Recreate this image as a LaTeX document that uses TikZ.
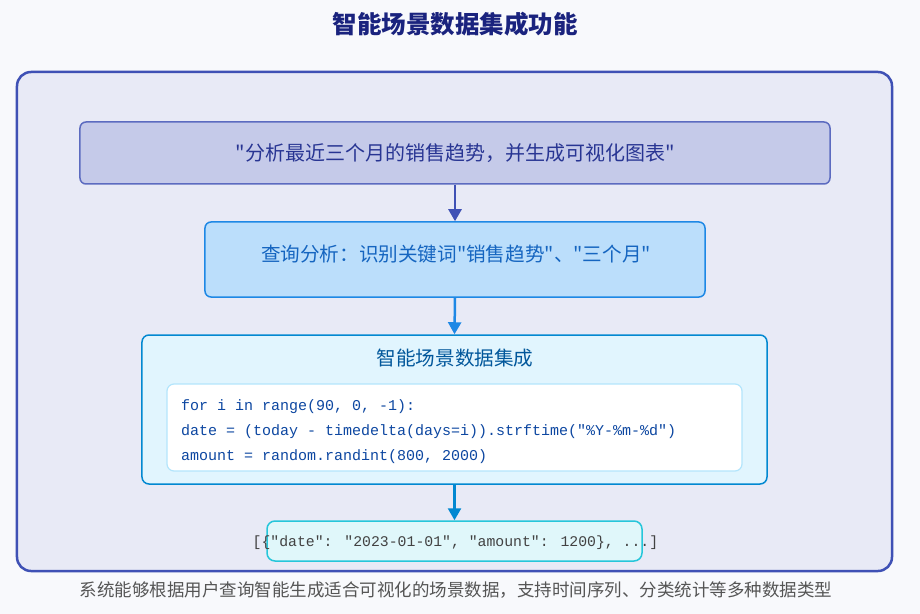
\documentclass[tikz,border=0pt]{standalone}
\usepackage{fontspec}
\setmainfont{Noto Sans CJK SC}[Ligatures=TeXOff]
\newfontfamily\codefont{Liberation Mono}
\usetikzlibrary{arrows.meta}

\definecolor{pagebg}{HTML}{F8F9FC}
\definecolor{titlecol}{HTML}{1A237E}
\definecolor{framefill}{HTML}{E8EAF6}
\definecolor{framedraw}{HTML}{3F51B5}
\definecolor{queryfill}{HTML}{C5CAE9}
\definecolor{querydraw}{HTML}{5C6BC0}
\definecolor{querytext}{HTML}{283593}
\definecolor{parsefill}{HTML}{BBDEFB}
\definecolor{parsedraw}{HTML}{1E88E5}
\definecolor{parsetext}{HTML}{1565C0}
\definecolor{genfill}{HTML}{E1F5FE}
\definecolor{gendraw}{HTML}{0288D1}
\definecolor{gentext}{HTML}{01579B}
\definecolor{codedraw}{HTML}{B3E5FC}
\definecolor{codetext}{HTML}{0D47A1}
\definecolor{outfill}{HTML}{E0F7FA}
\definecolor{outdraw}{HTML}{26C6DA}
\definecolor{outtext}{HTML}{424242}
\definecolor{notetext}{HTML}{555555}

\tikzset{
  panel/.style={rectangle, inner sep=0pt},
  framebox/.style={panel, fill=framefill, draw=framedraw, line width=2.5bp, rounded corners=14bp},
  querybox/.style={panel, fill=queryfill, draw=querydraw, line width=1.5bp, rounded corners=6bp},
  parsebox/.style={panel, fill=parsefill, draw=parsedraw, line width=1.5bp, rounded corners=6bp},
  genbox/.style={panel, fill=genfill, draw=gendraw, line width=1.5bp, rounded corners=7bp},
  codebox/.style={panel, fill=white, draw=codedraw, line width=1.2bp, rounded corners=7bp},
  outbox/.style={panel, fill=outfill, draw=outdraw, line width=1.5bp, rounded corners=8bp},
  boxtext/.style={inner sep=0pt, font=\fontsize{19.6bp}{23bp}\selectfont},
  codeline/.style={inner sep=0pt, anchor=base west, text=codetext, font=\codefont\fontsize{15bp}{18bp}\selectfont},
  flow/.style={line width=2.5bp, -{Triangle[width=13bp,length=12bp]}}
}

\begin{document}
\begin{tikzpicture}[x=1bp, y=-1bp]
  % page
  \fill[pagebg] (0,0) rectangle (920,614);
  \useasboundingbox (0,0) rectangle (920,614);

  % heading
  \node[inner sep=0pt, text=titlecol, font=\fontsize{24.5bp}{28bp}\selectfont\bfseries] (title) at (455,24) {智能场景数据集成功能};

  % outer frame
  \node[framebox, minimum width=875bp, minimum height=499bp] (frame) at (454.5,321.5) {};

  % user request
  \node[querybox, minimum width=750bp, minimum height=62bp] (query) at (455,153) {};
  \node[boxtext, text=querytext, font=\fontsize{20bp}{23bp}\selectfont] (querylabel) at (455,153) {"分析最近三个月的销售趋势，并生成可视化图表"};

  % query analysis
  \node[parsebox, minimum width=500bp, minimum height=75bp] (parse) at (455,259.5) {};
  \node[boxtext, text=parsetext] (parselabel) at (456,254.5) {查询分析：识别关键词"销售趋势"、"三个月"};

  % data generation
  \node[genbox, minimum width=625bp, minimum height=149bp] (gen) at (454.5,409.5) {};
  \node[boxtext, text=gentext] (genlabel) at (455,358) {智能场景数据集成};
  \node[codebox, minimum width=575bp, minimum height=87bp] (code) at (454.5,427.5) {};
  \node[codeline] (line1) at (181,410) {for i in range(90, 0, -1):};
  \node[codeline] (line2) at (181,435) {date = (today - timedelta(days=i)).strftime("\%Y-\%m-\%d")};
  \node[codeline] (line3) at (181,460) {amount = random.randint(800, 2000)};

  % generated records
  \node[outbox, minimum width=375bp, minimum height=40bp] (out) at (454.5,541) {};
  \node[inner sep=0pt, anchor=base, text=outtext, font=\codefont\fontsize{14.8bp}{18bp}\selectfont] (outlabel) at (455.5,546) {[\{"date": "2023-01-01", "amount": 1200\}, ...]};

  % connectors
  \draw[flow, framedraw] (query.south) -- (parse.north);
  \draw[flow, parsedraw] (parse.south) -- (gen.north);
  \draw[flow, gendraw] (gen.south) -- (out.north);

  % caption
  \node[inner sep=0pt, text=notetext, font=\fontsize{17.5bp}{20bp}\selectfont] (note) at (456,590) {系统能够根据用户查询智能生成适合可视化的场景数据，支持时间序列、分类统计等多种数据类型};
\end{tikzpicture}
\end{document}
